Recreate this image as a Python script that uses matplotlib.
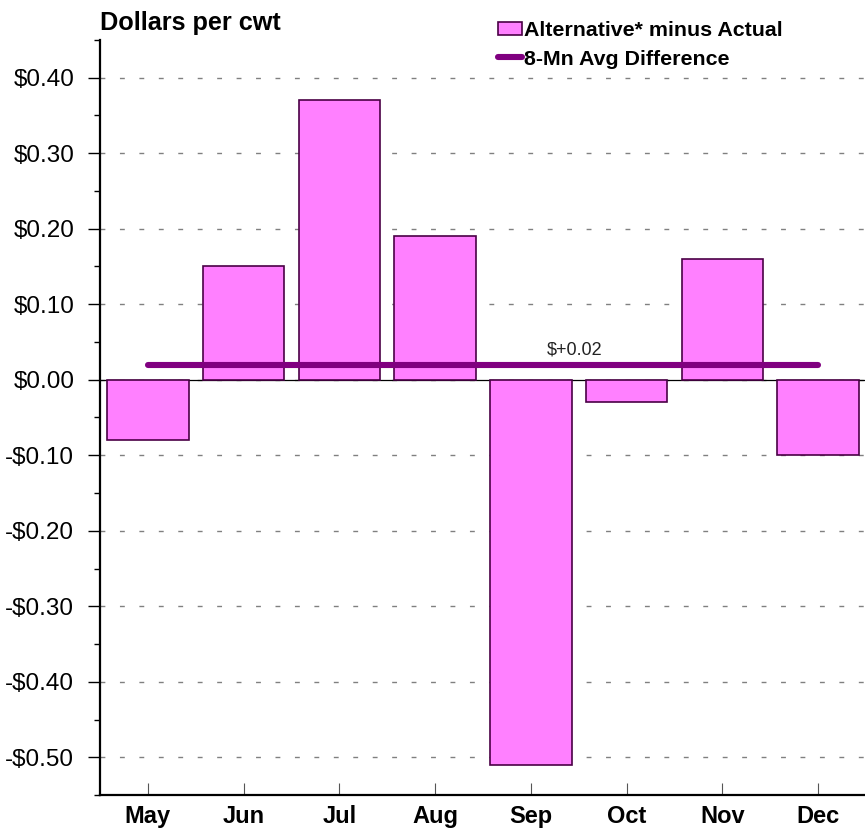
import matplotlib
matplotlib.use('Agg')
import matplotlib.pyplot as plt
import matplotlib.patches as mpatches
from matplotlib.lines import Line2D
from matplotlib.ticker import MultipleLocator, FuncFormatter

# ── data ─────────────────────────────────────────────────────────────────────
MONTHS = ["May", "Jun", "Jul", "Aug", "Sep", "Oct", "Nov", "Dec"]
DIFF = [-0.08, 0.15, 0.37, 0.19, -0.51, -0.03, 0.16, -0.10]
AVG_DIFF = 0.02
AVG_LABEL = "$+0.02"

BAR_LABEL = "Alternative* minus Actual"
AVG_LINE_LABEL = "8-Mn Avg Difference"

# ── style ────────────────────────────────────────────────────────────────────
BAR_FACE = "#FF80FF"
BAR_EDGE = "#4A0046"
AVG_COLOR = "#800080"

plt.rcParams['font.family'] = ['Liberation Sans', 'DejaVu Sans']

fig = plt.figure(figsize=(8.65, 8.3), dpi=100)
ax = fig.add_axes([100 / 865, 35 / 830, 766 / 865, 755 / 830])

x = list(range(len(MONTHS)))
ax.bar(x, DIFF, width=0.85, color=BAR_FACE, edgecolor=BAR_EDGE,
       linewidth=1.2, zorder=3)

# zero line
ax.axhline(0, color="black", lw=0.9, zorder=2)

# average line
ax.plot([x[0], x[-1]], [AVG_DIFF, AVG_DIFF], color=AVG_COLOR, lw=4.4,
        solid_capstyle='round', zorder=4)
ax.text(4.46, AVG_DIFF + 0.019, AVG_LABEL, ha='center', va='center',
        fontsize=13, color='#222222', zorder=5)

# ── axes ─────────────────────────────────────────────────────────────────────
ax.set_xlim(-0.5, 7.5)
ax.set_ylim(-0.55, 0.45)
ax.yaxis.set_major_locator(MultipleLocator(0.10))
ax.yaxis.set_minor_locator(MultipleLocator(0.05))
ax.yaxis.set_major_formatter(FuncFormatter(
    lambda v, p: f"${v:.2f}" if v >= -0.001 else f"-${abs(v):.2f}"))

ax.set_xticks(x)
ax.set_xticklabels(MONTHS, fontsize=17, fontweight='bold')
ax.tick_params(axis='x', direction='in', length=8.5, width=0.8,
               color='#555555', pad=7)
ax.tick_params(axis='y', which='major', direction='out', length=8.5,
               width=1.0, labelsize=17.5, pad=10)
ax.tick_params(axis='y', which='minor', direction='out', length=4.3,
               width=1.0)

for s in ['top', 'right']:
    ax.spines[s].set_visible(False)
for s in ['left', 'bottom']:
    ax.spines[s].set_linewidth(1.6)

ax.yaxis.grid(True, which='major', color='#808080', lw=1.0,
              linestyle=(0, (3.5, 10.5)))
ax.set_axisbelow(True)

# ── title + legend ───────────────────────────────────────────────────────────
fig.text(100 / 865, 1 - 30 / 830, "Dollars per cwt", ha='left',
         va='baseline', fontsize=18.2, fontweight='bold')

handles = [
    mpatches.Patch(facecolor=BAR_FACE, edgecolor=BAR_EDGE, linewidth=1.2,
                   label=BAR_LABEL),
    Line2D([], [], color=AVG_COLOR, lw=4.4, solid_capstyle='round',
           label=AVG_LINE_LABEL),
]
leg = ax.legend(handles=handles, loc='upper left',
                bbox_to_anchor=(498 / 865, 1 - 21 / 830),
                bbox_transform=fig.transFigure, frameon=False,
                prop={'weight': 'bold', 'size': 15.4},
                handlelength=1.1, handleheight=0.6, handletextpad=0.1,
                labelspacing=0.45, borderpad=0, borderaxespad=0)

fig.savefig("out.png", dpi=100, facecolor='white')
plt.close(fig)
